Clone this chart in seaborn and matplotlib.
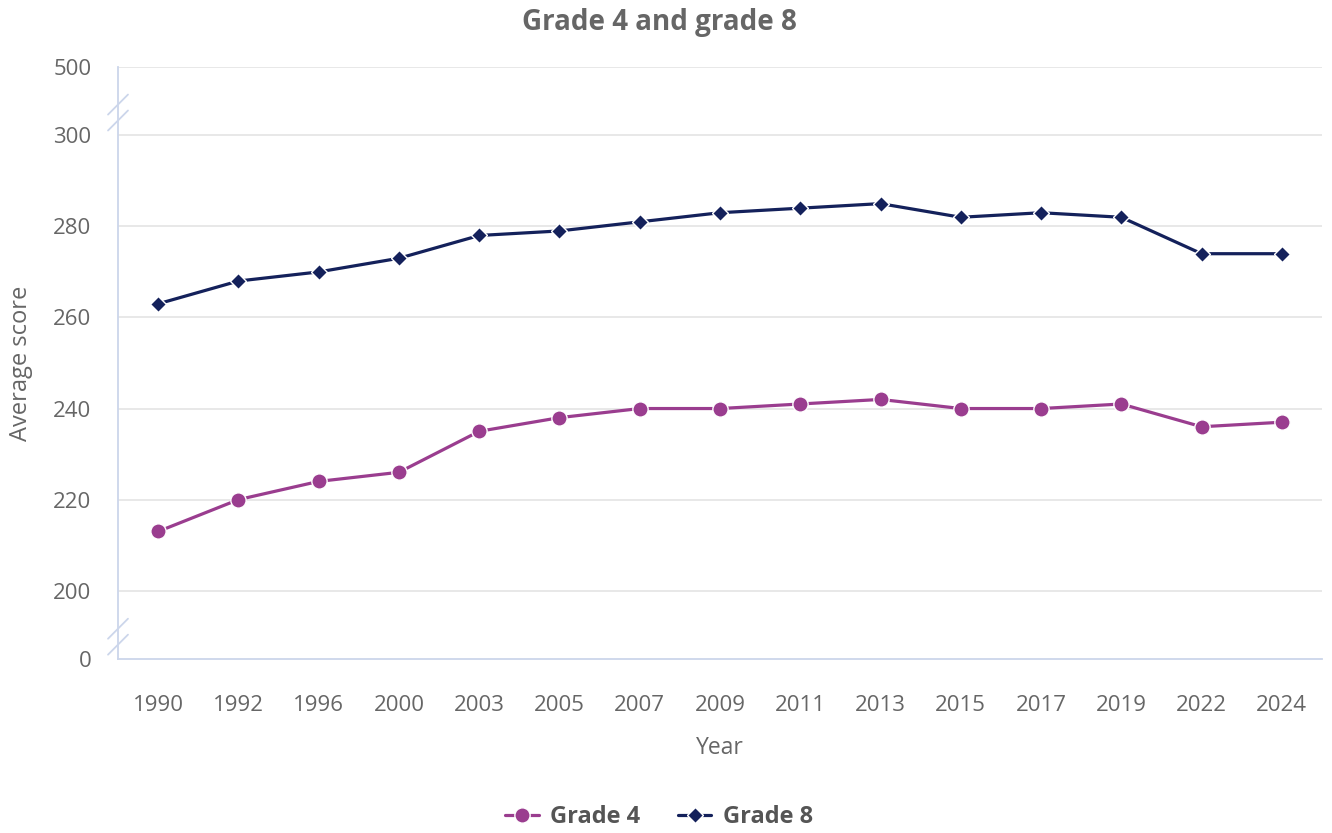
import numpy as np
import pandas as pd
import matplotlib
matplotlib.use("Agg")
import matplotlib.pyplot as plt
import seaborn as sns

# NAEP average scores
years = ["1990", "1992", "1996", "2000", "2003", "2005", "2007", "2009",
         "2011", "2013", "2015", "2017", "2019", "2022", "2024"]
grade4 = [213, 220, 224, 226, 235, 238, 240, 240, 241, 242, 240, 240, 241, 236, 237]
grade8 = [263, 268, 270, 273, 278, 279, 281, 283, 284, 285, 282, 283, 282, 274, 274]

# broken y axis: 0 and 500 are squeezed in next to 200 and 300
ytick_vals = [0, 200, 220, 240, 260, 280, 300, 500]

def squeeze(v):
    if v <= 0:
        return 185
    if v >= 500:
        return 315
    return v

sns.set_theme(style="white")
plt.rcParams["font.family"] = ["Open Sans", "DejaVu Sans"]

purple = "#9a3d8f"
navy = "#14215b"
axis_col = "#ccd6eb"
grid_col = "#e6e6e6"
text_col = "#666666"

df = pd.DataFrame({"pos": np.arange(len(years)), "year": years,
                   "Grade 4": grade4, "Grade 8": grade8})

fig = plt.figure(figsize=(13.32, 8.33), dpi=100)
ax = fig.add_axes([118 / 1332, (833 - 659) / 833, (1322 - 118) / 1332, (659 - 67) / 833])

sns.lineplot(data=df, x="pos", y="Grade 4", ax=ax, color=purple, linewidth=2.3,
             marker="o", markersize=11, markeredgecolor="white", markeredgewidth=1,
             label="Grade 4")
sns.lineplot(data=df, x="pos", y="Grade 8", ax=ax, color=navy, linewidth=2.3,
             marker="D", markersize=8, markeredgecolor="white", markeredgewidth=1,
             label="Grade 8")

ax.set_xlim(-0.5, len(years) - 0.5)
ax.set_ylim(squeeze(0), squeeze(500))
ax.set_xticks(df["pos"])
ax.set_xticklabels(years)
ax.set_yticks([squeeze(v) for v in ytick_vals])
ax.set_yticklabels([str(v) for v in ytick_vals])

for v in ytick_vals[1:]:
    ax.axhline(squeeze(v), color=grid_col, linewidth=1.3, zorder=0)

for s in ["top", "right"]:
    ax.spines[s].set_visible(False)
for s in ["left", "bottom"]:
    ax.spines[s].set_color(axis_col)
    ax.spines[s].set_linewidth(1.3)

ax.tick_params(axis="x", colors=axis_col, length=10, width=1.3, direction="out",
               labelcolor=text_col, labelsize=16, pad=16)
ax.tick_params(axis="y", length=0, labelcolor=text_col, labelsize=16, pad=19)

# break markers on the left axis
for yb in [189.9, 305.0]:
    for dy in [-1.75, 1.75]:
        ax.plot([-0.0083, 0.0083], [yb + dy - 2.2, yb + dy + 2.2],
                transform=ax.get_yaxis_transform(), color=axis_col,
                linewidth=1.3, clip_on=False)

ax.set_xlabel("Year", fontsize=16.5, color=text_col, labelpad=14)
ax.set_ylabel("Average score", fontsize=17, color=text_col)
ax.yaxis.set_label_coords(-0.071, 0.5)

fig.suptitle("Grade 4 and grade 8", fontsize=20, fontweight="bold",
             color=text_col, x=0.495, y=0.99)

ax.get_legend().remove()
handles, labels = ax.get_legend_handles_labels()
leg = fig.legend(handles, labels, loc="center", bbox_to_anchor=(0.495, 0.019),
                 ncol=2, frameon=False, handlelength=1.4, handletextpad=0.5,
                 columnspacing=1.6, prop={"size": 17, "weight": "bold"})
for t in leg.get_texts():
    t.set_color("#555555")

fig.savefig("out.png", dpi=100)
